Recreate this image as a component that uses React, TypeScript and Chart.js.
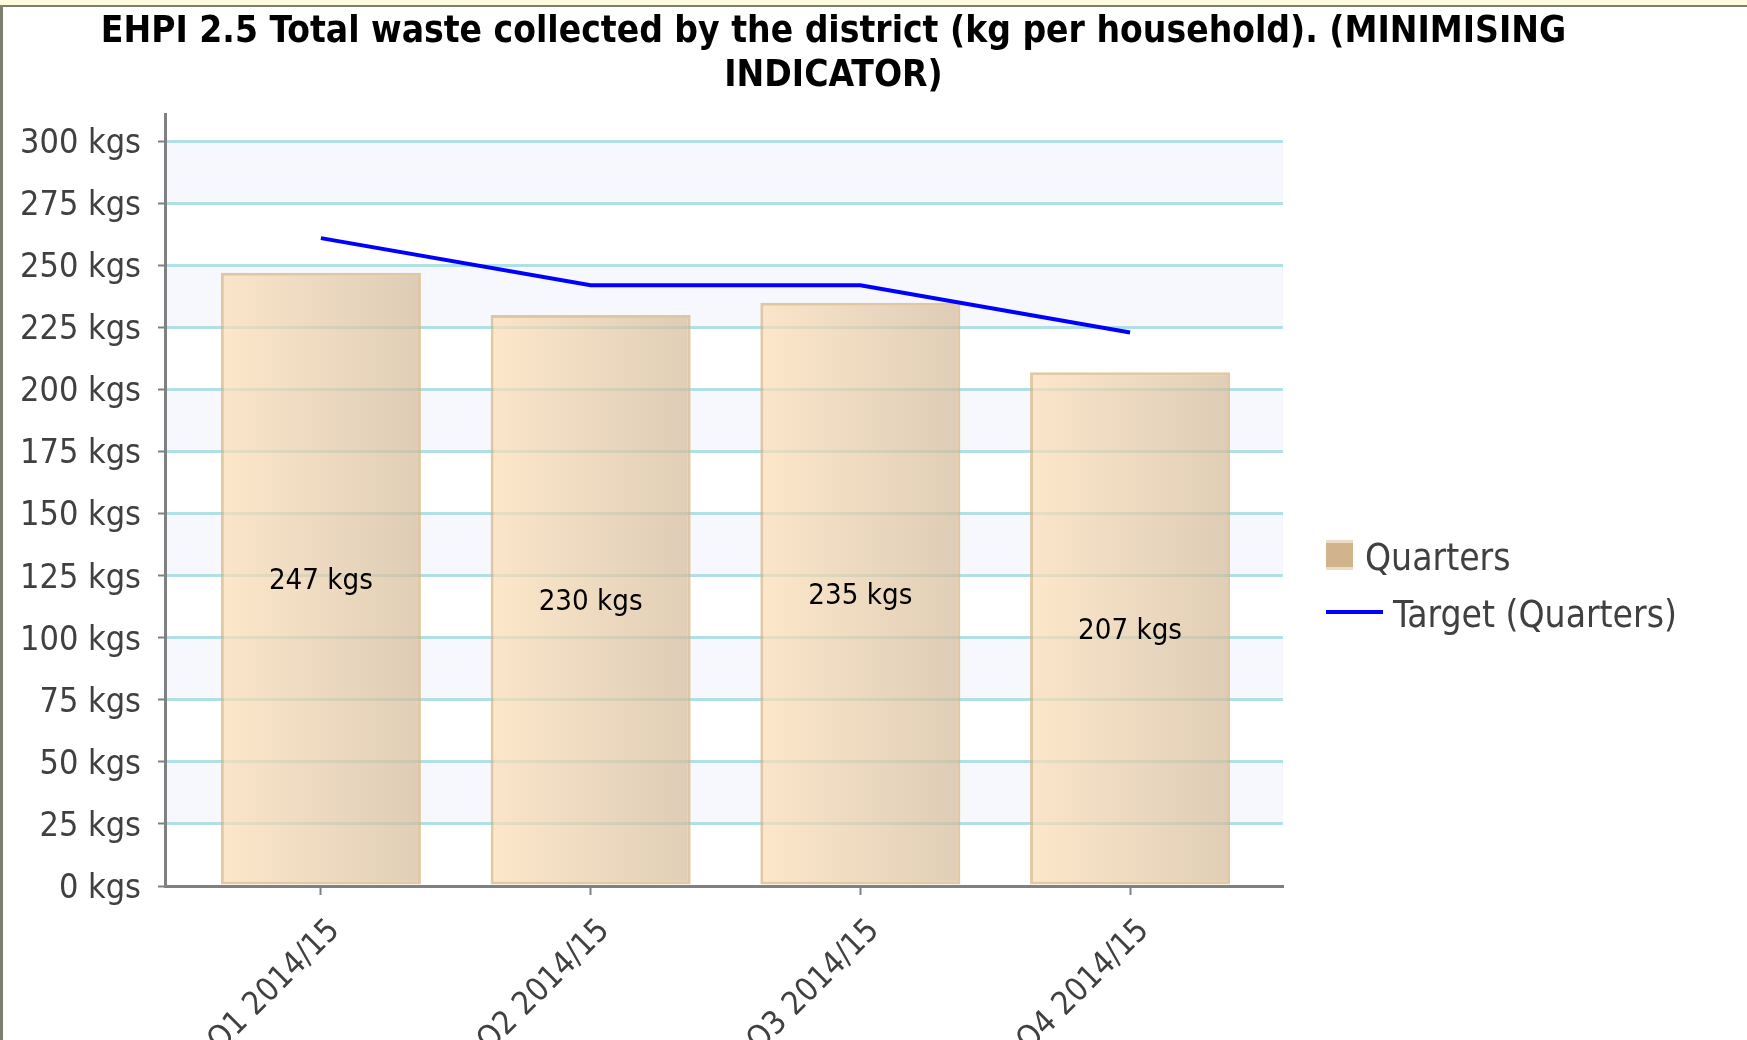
import React, { useEffect, useRef } from 'react';
import { Chart, registerables } from 'chart.js';

Chart.register(...registerables);

// ---------- data ----------
const titleLines = [
  'EHPI 2.5 Total waste collected by the district (kg per household). (MINIMISING',
  'INDICATOR)',
];
const categories = ['Q1 2014/15', 'Q2 2014/15', 'Q3 2014/15', 'Q4 2014/15'];
const quarterValues = [247, 230, 235, 207];
const targetValues = [261, 242, 242, 223];
const yTickValues = [0, 25, 50, 75, 100, 125, 150, 175, 200, 225, 250, 275, 300];
const unit = 'kgs';
const barSeriesLabel = 'Quarters';
const lineSeriesLabel = 'Target (Quarters)';

// ---------- style ----------
const FAMILY = '"DejaVu Sans Condensed", "DejaVu Sans", sans-serif';
const TEXT_GRAY = '#404040';
const AXIS_GRAY = '#808080';
const GRID = '#B0E0E6';
const BAND = '#F7F8FE';
const BAR_PCT = 0.7417;

function fitSize(text: string, width: number, weight: string) {
  const c = document.createElement('canvas').getContext('2d')!;
  c.font = `${weight} 100px ${FAMILY}`;
  return (100 * width) / c.measureText(text).width;
}

export default function App() {
  const ref = useRef<HTMLCanvasElement | null>(null);

  useEffect(() => {
    const canvas = ref.current;
    if (!canvas) return;

    const titleSize = fitSize(titleLines[0], 1466, 'bold');
    const axisSize = fitSize(`${yTickValues[12]} ${unit}`, 121, 'normal');
    const barLabelSize = fitSize(`${quarterValues[0]} ${unit}`, 104, 'normal');
    const legendSize = fitSize(lineSeriesLabel, 284, 'normal');

    const bandPlugin = {
      id: 'bands',
      beforeDraw(chart: any) {
        const { ctx, chartArea } = chart;
        const ys = chart.scales.y;
        ctx.save();
        ctx.fillStyle = BAND;
        for (let i = 1; i + 1 < yTickValues.length; i += 2) {
          const top = ys.getPixelForValue(yTickValues[i + 1]);
          const bot = ys.getPixelForValue(yTickValues[i]);
          ctx.fillRect(chartArea.left, top, chartArea.right - chartArea.left, bot - top);
        }
        ctx.restore();
      },
    };

    const barLabelPlugin = {
      id: 'barLabels',
      afterDatasetsDraw(chart: any) {
        const { ctx } = chart;
        const meta = chart.getDatasetMeta(0);
        ctx.save();
        ctx.fillStyle = '#000000';
        ctx.font = `normal ${barLabelSize}px ${FAMILY}`;
        ctx.textAlign = 'center';
        ctx.textBaseline = 'middle';
        meta.data.forEach((bar: any, i: number) => {
          const { x, y, base } = bar.getProps(['x', 'y', 'base'], true);
          ctx.fillText(`${quarterValues[i]} ${unit}`, x, (y + base) / 2 + 3);
        });
        ctx.restore();
      },
    };

    const legendPlugin = {
      id: 'sideLegend',
      afterDraw(chart: any) {
        const { ctx, chartArea } = chart;
        const x0 = chartArea.right + 43;
        ctx.save();
        ctx.fillStyle = '#D2B48C';
        ctx.fillRect(x0, 540, 27, 30);
        ctx.fillStyle = '#EADCC6';
        ctx.fillRect(x0, 540, 27, 3);
        ctx.fillRect(x0, 567, 27, 3);
        ctx.strokeStyle = '#0000FF';
        ctx.lineWidth = 4;
        ctx.beginPath();
        ctx.moveTo(x0, 612);
        ctx.lineTo(x0 + 57, 612);
        ctx.stroke();
        ctx.fillStyle = TEXT_GRAY;
        ctx.font = `normal ${legendSize}px ${FAMILY}`;
        ctx.textAlign = 'left';
        ctx.textBaseline = 'alphabetic';
        ctx.fillText(chart.data.datasets[0].label, x0 + 39, 570);
        ctx.fillText(chart.data.datasets[1].label, x0 + 67, 627);
        ctx.restore();
      },
    };

    const FALLBACK_FILL = 'rgba(232,204,166,0.72)';
    const barGradient = (c: any) => {
      const chart = c.chart;
      const xs = chart.scales && chart.scales.x;
      if (!xs || c.type !== 'data' || !chart.chartArea) return FALLBACK_FILL;
      const cx = xs.getPixelForValue(c.dataIndex);
      const w = Math.abs(xs.getPixelForValue(1) - xs.getPixelForValue(0)) * BAR_PCT;
      if (!isFinite(cx) || !isFinite(w) || w <= 0) return FALLBACK_FILL;
      const g = chart.ctx.createLinearGradient(cx - w / 2, 0, cx + w / 2, 0);
      g.addColorStop(0, 'rgba(252,222,182,0.72)');
      g.addColorStop(1, 'rgba(212,187,154,0.72)');
      return g;
    };

    const chart = new Chart(canvas, {
      type: 'bar',
      data: {
        datasets: [
          {
            type: 'bar',
            label: barSeriesLabel,
            data: quarterValues.map((v, i) => ({ x: i, y: v })),
            backgroundColor: barGradient,
            borderColor: 'rgba(214,180,130,0.72)',
            borderWidth: 3,
            borderSkipped: false,
            barPercentage: BAR_PCT,
            categoryPercentage: 1,
            order: 2,
          } as any,
          {
            type: 'line',
            label: lineSeriesLabel,
            data: targetValues.map((v, i) => ({ x: i, y: v })),
            borderColor: '#0000FF',
            borderWidth: 4,
            pointRadius: 0,
            fill: false,
            tension: 0,
            order: 1,
          } as any,
        ],
      },
      options: {
        responsive: false,
        animation: false,
        events: [],
        layout: { padding: { left: 0, right: 80, top: 0, bottom: 0 } },
        plugins: {
          legend: { display: false },
          tooltip: { enabled: false },
          title: {
            display: true,
            text: titleLines,
            color: '#000000',
            font: { family: FAMILY, size: titleSize, weight: 'bold', lineHeight: 44 / titleSize },
            padding: { top: 10, bottom: 16 },
          },
        },
        scales: {
          x: {
            type: 'linear',
            position: 'bottom',
            offset: false,
            min: -0.578,
            max: 3.567,
            afterBuildTicks: (s: any) => {
              s.ticks = categories.map((_, i) => ({ value: i }));
            },
            afterFit: (s: any) => {
              s.height = 154;
            },
            ticks: {
              autoSkip: false,
              minRotation: 45,
              maxRotation: 45,
              padding: 17,
              labelOffset: 14,
              color: TEXT_GRAY,
              font: { family: FAMILY, size: axisSize * 0.95 },
              callback: (v: any) => categories[v] ?? '',
            },
            grid: {
              display: true,
              offset: false,
              drawOnChartArea: false,
              drawTicks: true,
              tickLength: 9,
              tickColor: AXIS_GRAY,
              tickWidth: 2,
            },
            border: { display: true, color: AXIS_GRAY, width: 3, z: 1 },
          },
          y: {
            type: 'linear',
            position: 'left',
            min: 0,
            max: 311,
            afterBuildTicks: (s: any) => {
              s.ticks = yTickValues.map((v) => ({ value: v }));
            },
            afterFit: (s: any) => {
              s.width = 165;
            },
            ticks: {
              padding: 17,
              labelOffset: 3,
              color: TEXT_GRAY,
              font: { family: FAMILY, size: axisSize },
              callback: (v: any) => `${v} ${unit}`,
            },
            grid: {
              color: GRID,
              lineWidth: 3,
              drawTicks: true,
              tickLength: 7,
              tickColor: AXIS_GRAY,
              tickWidth: 2,
            },
            border: { display: true, color: AXIS_GRAY, width: 3, z: 1 },
          },
          yR: {
            type: 'linear',
            position: 'right',
            display: true,
            grid: { display: false },
            ticks: { display: false },
            border: { display: false },
            afterFit: (s: any) => {
              s.width = 384;
            },
          },
        },
      } as any,
      plugins: [bandPlugin, barLabelPlugin, legendPlugin],
    });

    return () => chart.destroy();
  }, []);

  return (
    <div
      style={{
        position: 'fixed',
        left: 0,
        top: 0,
        width: 1747,
        height: 1040,
        overflow: 'hidden',
        background: '#FFFFFF',
      }}
    >
      <canvas
        ref={ref}
        width={1747}
        height={1040}
        style={{ position: 'absolute', left: 0, top: 0, width: 1747, height: 1040 }}
      />
      <div style={{ position: 'absolute', left: 0, top: 0, width: 1747, height: 5, background: '#FFFCDD' }} />
      <div style={{ position: 'absolute', left: 0, top: 5, width: 1747, height: 2, background: '#7F7F70' }} />
      <div style={{ position: 'absolute', left: 0, top: 5, width: 3, height: 1035, background: '#7F7F70' }} />
    </div>
  );
}
